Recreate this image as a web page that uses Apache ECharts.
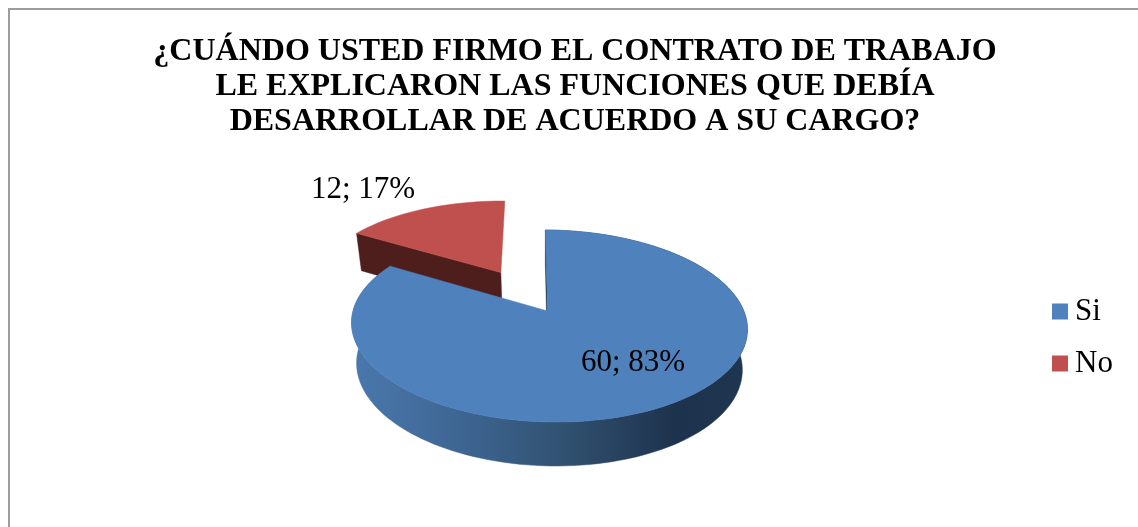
<!DOCTYPE html>
<html>
<head>
<meta charset="utf-8">
<style>
  html, body { margin: 0; padding: 0; background: #fff; }
  #main { width: 1138px; height: 527px; }
</style>
</head>
<body>
<div id="main"></div>
<script src="https://cdn.jsdelivr.net/npm/echarts@6/dist/echarts.min.js"></script>
<script>
const titleLines = [
  "¿CUÁNDO USTED FIRMO EL CONTRATO DE TRABAJO",
  "LE EXPLICARON LAS FUNCIONES QUE DEBÍA",
  "DESARROLLAR DE ACUERDO A SU CARGO?"
];
const categories = ["Si", "No"];
const values = [60, 12];
const topColors = ["#4f81bd", "#c0504d"];

const serif = '"Liberation Serif", serif';
const total = values.reduce((a, b) => a + b, 0);

// the tilted pie plane, k/m are the perspective
const k = 0.156, m = 0.008;
const topPlane = { x0: 547.5, y0: 311, B: 195.5, A: 93.7 };
const bottomPlane = { x0: 547.5, y0: 351, B: 190.5, A: 97 };

function project(u, v, plane) {
  const w = 1 / (1 - k * v - m * u);
  return [
    plane.x0 + (plane.B * u + 2.4 * v) * w,
    plane.y0 + (plane.A * v + 2 * u) * w
  ];
}

// degrees clockwise from 12 o'clock, explode in plane units
function arc(from, to, explode, plane) {
  const mid = (from + to) / 2 * Math.PI / 180;
  const ex = Math.sin(mid) * explode, ey = -Math.cos(mid) * explode;
  const pts = [];
  const steps = Math.ceil(Math.abs(to - from) / 2);
  for (let i = 0; i <= steps; i++) {
    const a = (from + (to - from) * i / steps) * Math.PI / 180;
    pts.push(project(Math.sin(a) + ex, -Math.cos(a) + ey, plane));
  }
  return { pts, apex: project(ex, ey, plane) };
}

function poly(points, fill, z2) {
  return {
    type: "polygon",
    z2,
    shape: { points },
    style: { fill, stroke: fill, lineWidth: 0.5 }
  };
}

const wallBlue = new echarts.graphic.LinearGradient(352, 0, 747, 0, [
  { offset: 0, color: "#4a78ad" },
  { offset: 0.3, color: "#3d6490" },
  { offset: 0.55, color: "#30506f" },
  { offset: 0.82, color: "#1d324d" },
  { offset: 1, color: "#1f3650" }
], true);

// the red slice sits at the back, so its outer wall is never seen
const pieces = [
  { start: 0, explode: 0, wall: wallBlue, cut: "#1d324d", z: 20, labelAt: [633, 363] },
  { start: 300, explode: 0.5, wall: null, cut: "#4d1e1c", z: 10, labelAt: [363, 190] }
];

function renderSlice(index) {
  return function (params, api) {
    const val = api.value(0);
    const p = pieces[index];
    const from = p.start, to = from + val / total * 360;
    const top = arc(from, to, p.explode, topPlane);
    const bot = arc(from, to, p.explode, bottomPlane);
    const last = top.pts.length - 1;
    const children = [
      // cut face, wall, the top face covers what should be hidden
      poly([top.apex, top.pts[0], bot.pts[0], bot.apex], p.cut, p.z),
      poly([top.apex].concat(top.pts), topColors[index], p.z + 2),
      {
        type: "text",
        z2: 40,
        style: {
          x: p.labelAt[0],
          y: p.labelAt[1],
          text: val + "; " + Math.round(val / total * 100) + "%",
          font: "31px " + serif,
          fill: "#000",
          align: "center",
          verticalAlign: "middle"
        }
      }
    ];
    if (p.wall) {
      children.push(poly(top.pts.concat(bot.pts.slice().reverse()), p.wall, p.z + 1));
    }
    return { type: "group", children };
  };
}

const chart = echarts.init(document.getElementById("main"), null, { renderer: "canvas" });
chart.setOption({
  animation: false,
  backgroundColor: "#fff",
  title: {
    text: titleLines.join("\n"),
    left: 570,
    top: 29,
    textAlign: "center",
    textStyle: {
      fontFamily: serif,
      fontWeight: "bold",
      fontSize: 32,
      lineHeight: 35,
      color: "#000"
    }
  },
  legend: {
    data: categories,
    orient: "vertical",
    left: 1047,
    top: 291,
    icon: "rect",
    itemWidth: 16,
    itemHeight: 16,
    itemGap: 21,
    textStyle: { fontFamily: serif, fontSize: 31, color: "#000", padding: [0, 0, 0, 2] }
  },
  graphic: [{
    type: "polyline",
    shape: { points: [[9, 527], [9, 9], [1138, 9]] },
    style: { stroke: "#9c9c9c", lineWidth: 2, fill: null }
  }],
  series: categories.map((name, i) => ({
    type: "custom",
    name,
    coordinateSystem: "none",
    itemStyle: { color: topColors[i] },
    renderItem: renderSlice(i),
    data: [[values[i]]]
  }))
});
</script>
</body>
</html>
